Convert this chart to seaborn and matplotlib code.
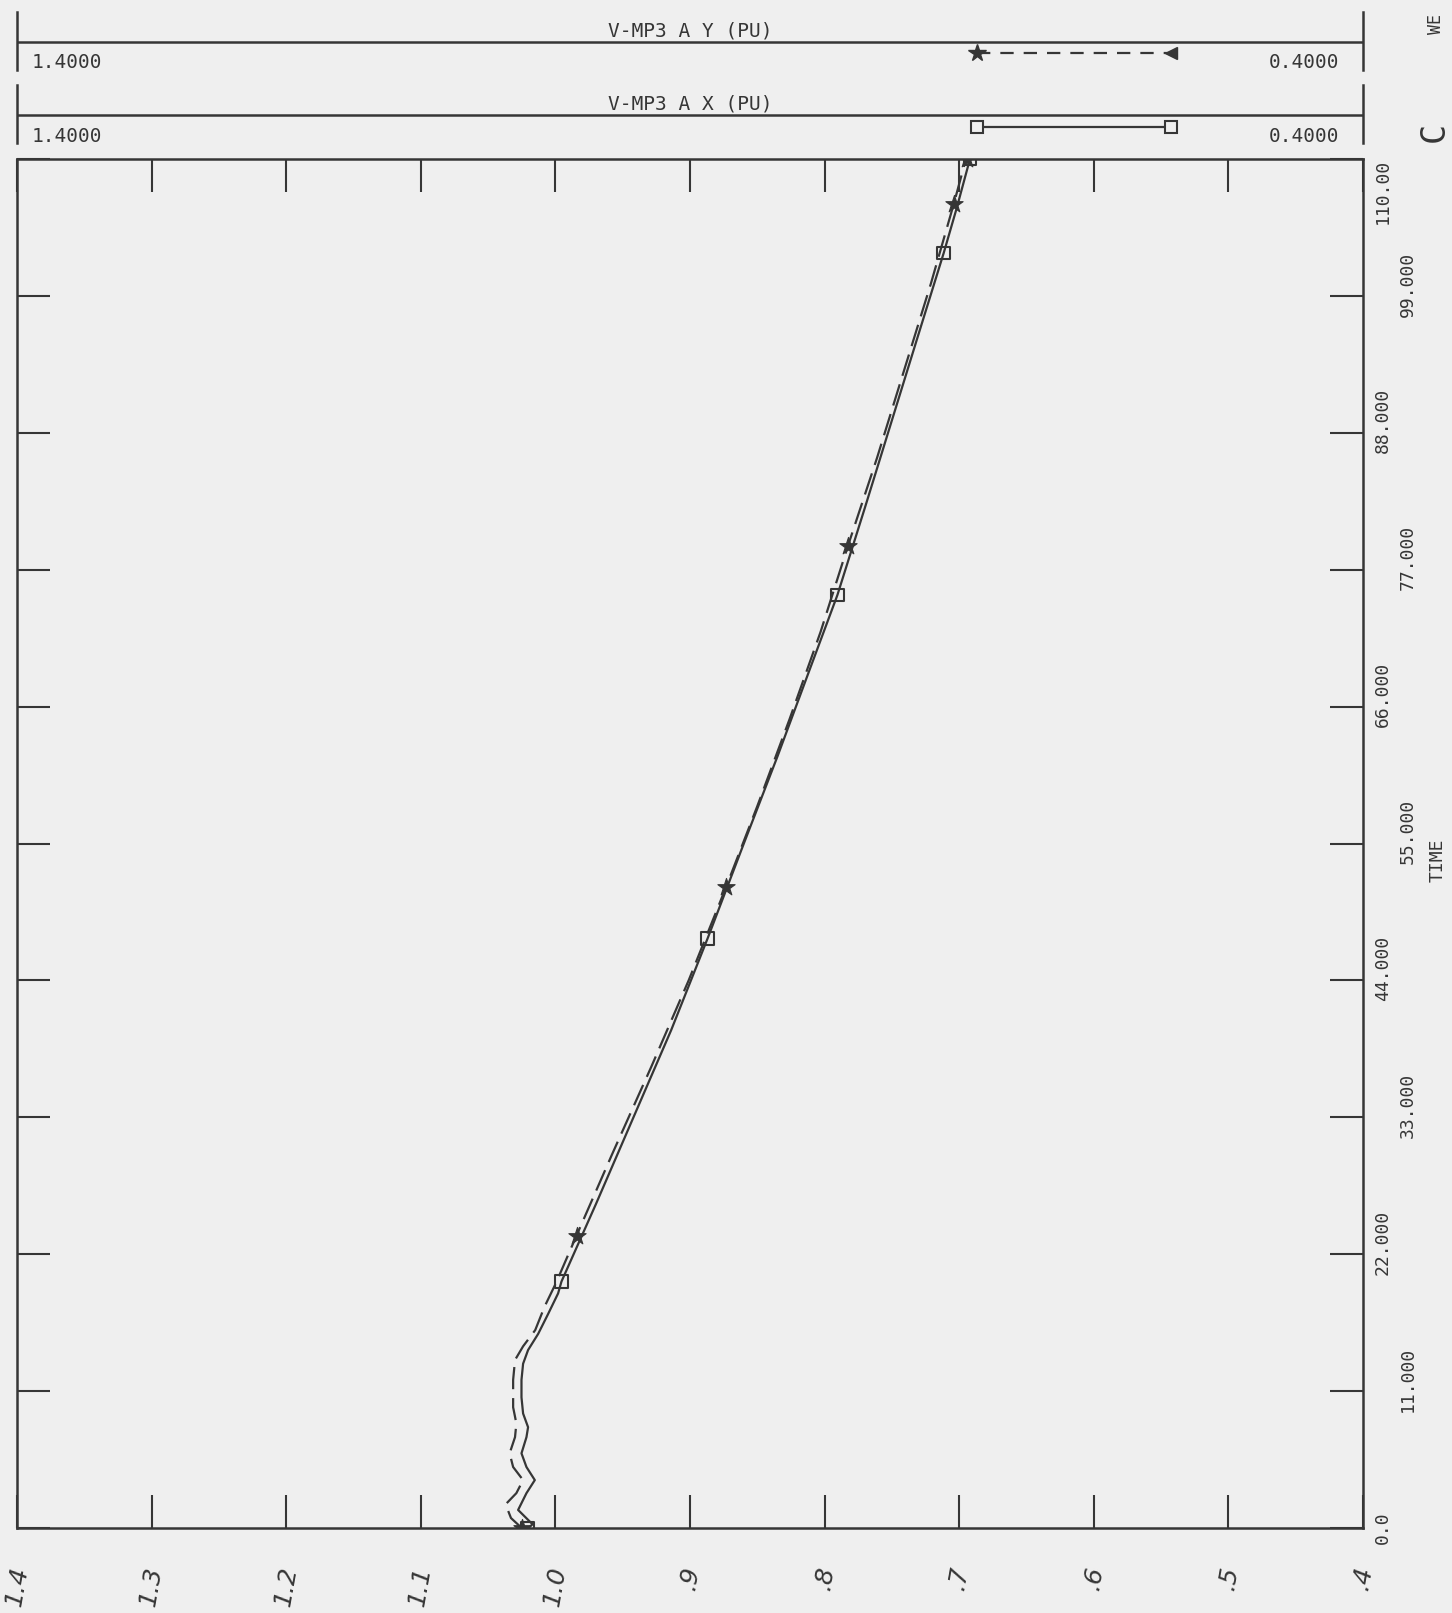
import numpy as np
import pandas as pd
import matplotlib
matplotlib.use("Agg")
import matplotlib.pyplot as plt
import matplotlib.transforms as mtransforms
import seaborn as sns

# ---------------- data ----------------
# V-MP3 A X (PU): solid line, open squares
x_time = [0.0, 0.3, 1.45, 2.8, 3.85, 4.9, 6.0, 7.3, 8.1, 9.2, 10.5, 11.9, 13.2, 14.3,
          15.6, 17.2, 18.85, 19.8, 26.0, 33.0, 40.0, 47.35, 55.0, 62.0, 69.0, 74.96,
          82.0, 89.0, 96.0, 102.45, 106.0, 110.0]
x_val = [1.020, 1.017, 1.0277, 1.0215, 1.0153, 1.0215, 1.0252, 1.0215, 1.0203, 1.024,
         1.0252, 1.0252, 1.024, 1.0203, 1.0128, 1.0054, 0.998, 0.9955, 0.970, 0.942,
         0.914, 0.887, 0.860, 0.835, 0.811, 0.7905, 0.770, 0.750, 0.730, 0.7115, 0.702, 0.692]
x_mark_time = [0.0, 19.8, 47.35, 74.96, 102.45, 110.0]
x_mark_val = [1.021, 0.9955, 0.887, 0.7905, 0.7115, 0.692]

# V-MP3 A Y (PU): dashed line, stars
y_time = [0.0, 0.8, 1.9, 2.8, 3.85, 4.9, 6.0, 7.3, 8.4, 9.7, 11.9, 13.5, 14.6, 15.9,
          17.8, 19.7, 23.5, 30.0, 37.0, 44.0, 51.5, 58.0, 65.0, 72.0, 78.9, 86.0,
          93.0, 100.0, 106.4, 110.0]
y_val = [1.025, 1.033, 1.037, 1.029, 1.024, 1.0314, 1.034, 1.030, 1.029, 1.0314, 1.0314,
         1.030, 1.024, 1.015, 1.008, 0.9995, 0.9843, 0.958, 0.929, 0.901, 0.8732, 0.850,
         0.826, 0.803, 0.7827, 0.761, 0.741, 0.721, 0.704, 0.695]
y_mark_time = [0.0, 23.5, 51.5, 78.9, 106.4, 110.0]
y_mark_val = [1.025, 0.9843, 0.8732, 0.7827, 0.704, 0.694]

value_ticks = [1.4, 1.3, 1.2, 1.1, 1.0, 0.9, 0.8, 0.7, 0.6, 0.5, 0.4]
value_labels = ["1.4", "1.3", "1.2", "1.1", "1.0", ".9", ".8", ".7", ".6", ".5", ".4"]
time_ticks = [0, 11, 22, 33, 44, 55, 66, 77, 88, 99, 110]
time_labels = ["0.0", "11.000", "22.000", "33.000", "44.000", "55.000",
               "66.000", "77.000", "88.000", "99.000", "110.00"]
series_titles = ["V-MP3 A Y (PU)", "V-MP3 A X (PU)"]
scale_left = "1.4000"
scale_right = "0.4000"

# ---------------- style ----------------
sns.set_theme(style="white")
plt.rcParams["font.family"] = ["DejaVu Sans Mono", "DejaVu Sans"]
ink = "#363636"
paper = "#efefef"

W, H = 1452, 1613
fig = plt.figure(figsize=(W / 100, H / 100), dpi=100, facecolor=paper)

# main axes (pixel frame: left 17, right 1363, top 159, bottom 1528)
ax = fig.add_axes([17 / W, 1 - 1528 / H, (1363 - 17) / W, (1528 - 159) / H])
ax.set_facecolor(paper)

dfx = pd.DataFrame({"value": x_val, "time": x_time})
dfy = pd.DataFrame({"value": y_val, "time": y_time})
sns.lineplot(data=dfx, x="value", y="time", sort=False, estimator=None,
             color=ink, lw=1.6, ax=ax)
sns.lineplot(data=dfy, x="value", y="time", sort=False, estimator=None,
             color=ink, lw=1.6, ax=ax)
ax.lines[-1].set_dashes((10, 4))

sns.scatterplot(x=x_mark_val, y=x_mark_time, marker="s", s=85, color=ink,
                linewidth=1.5, ax=ax, zorder=5)
ax.collections[-1].set_facecolor("none")
ax.collections[-1].set_edgecolor(ink)
sns.scatterplot(x=y_mark_val, y=y_mark_time, marker="*", s=170, color=ink,
                linewidth=0.8, edgecolor=ink, ax=ax, zorder=5)

ax.set_xlim(1.4, 0.4)
ax.set_ylim(0, 110)
ax.set_xlabel("")
ax.set_ylabel("")
for s in ax.spines.values():
    s.set_visible(True)
    s.set_color(ink)
    s.set_linewidth(1.8)

ax.set_xticks(value_ticks)
ax.set_xticklabels(value_labels)
ax.tick_params(axis="x", top=True, bottom=True, labeltop=False, labelbottom=True,
               direction="in", length=24, width=1.5, color=ink, pad=26,
               labelsize=18, labelcolor=ink, labelrotation=80)
for lab in ax.get_xticklabels():
    lab.set_fontstyle("italic")
    lab.set_family(["DejaVu Sans"])
    lab.set_va("top")
    lab.set_ha("center")

ax.set_yticks(time_ticks)
ax.set_yticklabels(time_labels)
ax.tick_params(axis="y", left=True, right=True, labelleft=False, labelright=True,
               direction="in", length=24, width=1.5, color=ink,
               labelsize=13, labelcolor=ink, labelrotation=90)
for i, tick in enumerate(ax.yaxis.get_major_ticks()):
    tick.set_pad(8 if i % 2 == 0 else 26)
up = mtransforms.ScaledTranslation(0, 12 / 100, fig.dpi_scale_trans)
for i, lab in enumerate(ax.get_yticklabels()):
    lab.set_va("center")
    if i == len(time_ticks) - 1:
        lab.set_va("top")
    elif i > 0:
        lab.set_transform(lab.get_transform() + up)

fig.text(1438 / W, 1 - 860 / H, "TIME", rotation=90, ha="center", va="center",
         fontsize=13, color=ink)

# ---------------- header strips (legend keys) ----------------
strips = [
    # top, bottom, line, title, numbers, key
    (12, 70, 42, 31, 63, 53),
    (85, 143, 115, 104, 137, 127),
]
for k, (top, bot, line_y, title_y, num_y, key_y) in enumerate(strips):
    pax = fig.add_axes([17 / W, 1 - bot / H, (1363 - 17) / W, (bot - top) / H])
    pax.set_facecolor("none")
    pax.set_xlim(0, 1)
    pax.set_ylim(bot, top)
    pax.set_xticks([])
    pax.set_yticks([])
    for side in ("top", "bottom"):
        pax.spines[side].set_visible(False)
    for side in ("left", "right"):
        pax.spines[side].set_visible(True)
        pax.spines[side].set_color(ink)
        pax.spines[side].set_linewidth(1.8)
    pax.axhline(line_y, color=ink, lw=1.8)
    pax.text(0.5, title_y, series_titles[k], ha="center", va="center",
             fontsize=14, color=ink)
    pax.text(0.011, num_y, scale_left, ha="left", va="center", fontsize=14, color=ink)
    pax.text(0.982, num_y, scale_right, ha="right", va="center", fontsize=14, color=ink)
    x0, x1 = 0.713, 0.857
    if k == 0:
        pax.plot([x0, x1], [key_y, key_y], color=ink, lw=1.6, dashes=(6, 4.5))
        pax.plot([x0], [key_y], marker="*", ms=13, color=ink)
        pax.plot([x1], [key_y], marker="<", ms=9, color=ink)
    else:
        pax.plot([x0, x1], [key_y, key_y], color=ink, lw=1.6)
        pax.plot([x0, x1], [key_y, key_y], ls="none", marker="s", ms=9,
                 mfc=paper, mec=ink, mew=1.5)

# page text fragments at the right edge
fig.text(1436 / W, 1 - 24 / H, "WE", rotation=90, ha="center", va="center",
         fontsize=12, color=ink)
fig.text(1434 / W, 1 - 132 / H, "C", rotation=90, ha="center", va="center",
         fontsize=24, color=ink)

fig.savefig("out.png", dpi=100, facecolor=paper)
